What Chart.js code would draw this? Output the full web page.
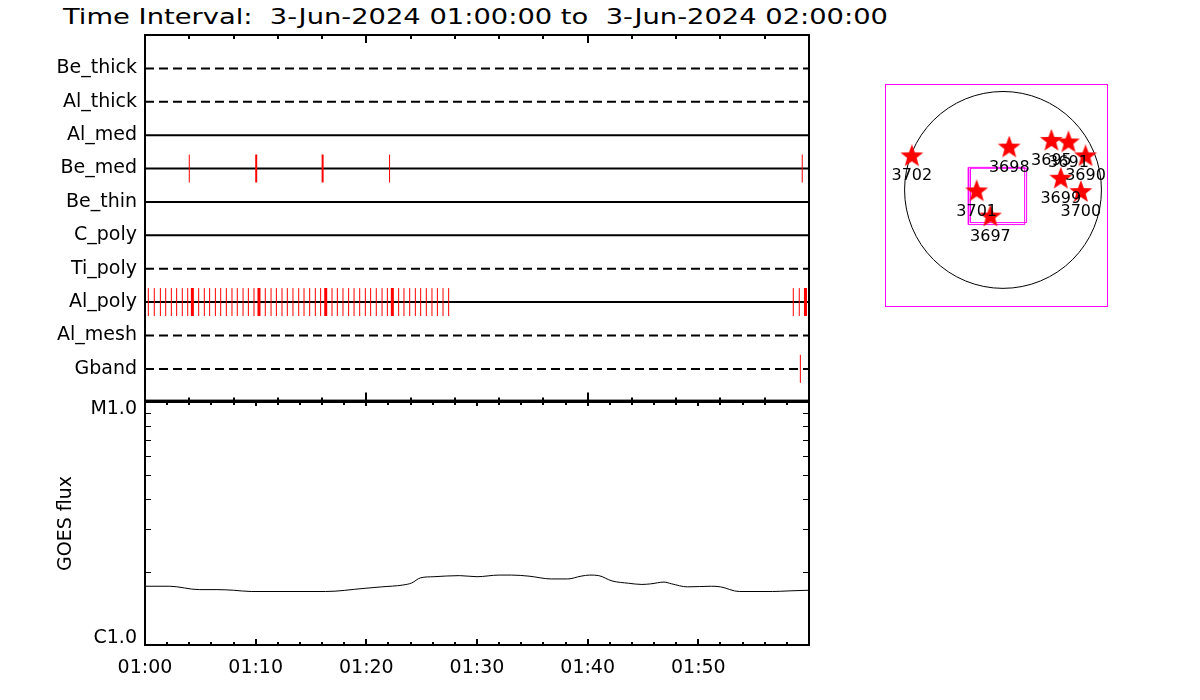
<!DOCTYPE html>
<html lang="en">
<head>
<meta charset="utf-8">
<title>XRT filter timeline, GOES flux and AR map</title>
<script src="https://cdn.jsdelivr.net/npm/chart.js"></script>
<style>
  body { margin: 0; background: #fff; width: 1200px; height: 700px; position: relative; overflow: hidden; }
  canvas { position: absolute; }
  #title { position: absolute; left: 63px; top: 4px; font: 21px "DejaVu Sans", sans-serif; line-height: 26px;
           white-space: pre; transform-origin: left center; color: #000; }
</style>
</head>
<body>
<div id="title">Time Interval:  3-Jun-2024 01:00:00 to  3-Jun-2024 02:00:00</div>
<canvas id="filterChart" width="830" height="420" style="left:0;top:0"></canvas>
<canvas id="goesChart" width="830" height="320" style="left:0;top:380px"></canvas>
<canvas id="diskChart" width="223" height="223" style="left:885px;top:84px"></canvas>
<script>
// ---- data ----
const filterNames = ['Be_thick', 'Al_thick', 'Al_med', 'Be_med', 'Be_thin', 'C_poly', 'Ti_poly', 'Al_poly', 'Al_mesh', 'Gband'];

// exposure times, minutes after 01:00:00
const beMedTimes = [4.00, 22.10, 59.39];
const beMedHeavy = [10.05, 16.05];
const alPolyTimes = [0.30, 0.84, 1.39, 1.87, 2.38, 2.86, 3.37, 3.86, 4.85, 5.36, 5.84, 6.36, 6.84, 7.35,
  7.86, 8.34, 8.86, 9.34, 9.85, 10.87, 11.39, 11.87, 12.38, 12.86, 13.37, 13.89, 14.37, 14.88, 15.39,
  15.87, 16.90, 17.38, 17.89, 18.40, 18.89, 19.40, 19.91, 20.39, 20.90, 21.42, 21.90, 22.92, 23.40,
  23.92, 24.43, 24.91, 25.42, 25.93, 26.42, 26.93, 27.44, 58.58, 59.12];
const alPolyHeavy = [4.28, 10.30, 16.33, 22.35, 59.68];
const gbandTimes = [59.22];

// GOES 1-8 A flux
const goesMinutes = [0, 2.2, 4.9, 6.5, 8.0, 9.6, 16.3, 19.8, 21.4, 23.3, 24.1, 24.9, 26.1, 28.4, 30.0, 32.0,
  33.1, 34.7, 36.7, 38.2, 39.4, 40.2, 41.0, 42.2, 43.7, 44.9, 45.7, 46.9, 47.6, 49.0, 51.2, 52.0, 53.7,
  56.7, 58.2, 60];
const goesFlux = [1.745e-6, 1.745e-6, 1.69e-6, 1.69e-6, 1.68e-6, 1.66e-6, 1.66e-6, 1.71e-6, 1.735e-6, 1.765e-6,
  1.80e-6, 1.89e-6, 1.91e-6, 1.93e-6, 1.91e-6, 1.94e-6, 1.94e-6, 1.92e-6, 1.87e-6, 1.87e-6, 1.92e-6,
  1.94e-6, 1.93e-6, 1.835e-6, 1.795e-6, 1.775e-6, 1.785e-6, 1.815e-6, 1.785e-6, 1.735e-6, 1.745e-6, 1.735e-6,
  1.66e-6, 1.66e-6, 1.67e-6, 1.68e-6];

const timeTickLabels = ['01:00', '01:10', '01:20', '01:30', '01:40', '01:50'];
const goesClassValues = [1e-6, 1e-5];
const goesClassLabels = ['C1.0', 'M1.0'];

// active regions, heliocentric arcsec
const arNumbers = ['3702', '3698', '3695', '3691', '3690', '3699', '3700', '3701', '3697'];
const arX = [-876, 60, 465, 629, 793, 555, 748, -253, -121];
const arY = [323, 407, 471, 456, 323, 108, -21, -14, -256];
const solarRadius = 946;
// XRT field of view corners (two pointings)
const fovX0 = [-333, -314];
const fovX1 = [208, 227];
const fovY0 = [-333, -314];
const fovY1 = [217, 208];

// ---- style ----
const dashedFilters = ['Be_thick', 'Al_thick', 'Ti_poly', 'Al_mesh', 'Gband'];
const FONT = '"DejaVu Sans", sans-serif';
Chart.defaults.font.family = FONT;
Chart.defaults.font.size = 19;
Chart.defaults.color = '#000';
Chart.defaults.animation = false;
Chart.defaults.events = [];
Chart.defaults.plugins.legend.display = false;
Chart.defaults.plugins.tooltip.enabled = false;

// title squeezed to the reference width
const titleEl = document.getElementById('title');
titleEl.style.transform = 'scaleX(' + (825 / titleEl.getBoundingClientRect().width) + ')';

// frame + inward tick marks drawn from the chart's own scales
const frameTicks = {
  id: 'frameTicks',
  afterDraw(chart, args, o) {
    const {ctx, chartArea: a} = chart;
    ctx.save();
    ctx.strokeStyle = '#000';
    ctx.lineWidth = 2;
    ctx.strokeRect(a.left, a.top, a.right - a.left, a.bottom - a.top);
    const xs = chart.scales.x;
    ctx.beginPath();
    for (const t of xs.ticks) {
      const px = Math.round(xs.getPixelForValue(t.value));
      const major = Math.abs(t.value % 10) < 1e-9;
      if (o.top) { ctx.moveTo(px, a.top); ctx.lineTo(px, a.top + (major ? o.top[1] : o.top[0])); }
      if (o.bottom) { ctx.moveTo(px, a.bottom); ctx.lineTo(px, a.bottom - (major ? o.bottom[1] : o.bottom[0])); }
    }
    ctx.stroke();
    if (o.yMinor) {
      const ys = chart.scales.y;
      ctx.lineWidth = 1;
      ctx.beginPath();
      for (const t of ys.ticks) {
        const py = Math.round(ys.getPixelForValue(t.value)) + 0.5;
        ctx.moveTo(a.left, py); ctx.lineTo(a.left + o.yMinor, py);
        ctx.moveTo(a.right, py); ctx.lineTo(a.right - o.yMinor, py);
      }
      ctx.stroke();
    }
    ctx.restore();
  }
};

// ---- filter timeline ----
const rowOf = name => filterNames.indexOf(name) + 1;
const marks = (times, row, width) => ({
  type: 'scatter',
  data: times.map(t => ({x: t, y: row})),
  pointStyle: 'line', rotation: 90, pointRadius: 14,
  borderColor: '#ff0000', borderWidth: width, order: 0
});

const filterDatasets = [
  marks(beMedTimes, rowOf('Be_med'), 1),
  marks(beMedHeavy, rowOf('Be_med'), 2),
  marks(alPolyTimes, rowOf('Al_poly'), 1),
  marks(alPolyHeavy, rowOf('Al_poly'), 3),
  marks(gbandTimes, rowOf('Gband'), 1)
];
filterNames.forEach((name, i) => {
  filterDatasets.push({
    type: 'line',
    data: [{x: 0, y: i + 1}, {x: 60, y: i + 1}],
    borderColor: '#000', borderWidth: 2, pointRadius: 0,
    borderDash: dashedFilters.includes(name) ? [9, 5] : [],
    order: 1
  });
});

new Chart(document.getElementById('filterChart'), {
  type: 'scatter',
  data: {datasets: filterDatasets},
  options: {
    responsive: false,
    layout: {autoPadding: false, padding: {left: 0, top: 35, right: 21, bottom: 17}},
    scales: {
      x: {type: 'linear', min: 0, max: 60, display: false, ticks: {stepSize: 2}},
      y: {
        type: 'linear', min: 0, max: 10.95, reverse: true,
        grid: {display: false, drawTicks: false}, border: {display: false},
        afterBuildTicks: s => { s.ticks = filterNames.map((n, i) => ({value: i + 1})); },
        afterFit: s => { s.width = 145; },
        ticks: {padding: 8, autoSkip: false, callback: v => filterNames[v - 1] || ''}
      }
    },
    plugins: {frameTicks: {top: [4, 8], bottom: [3, 8]}}
  },
  plugins: [frameTicks]
});

// ---- GOES flux ----
new Chart(document.getElementById('goesChart'), {
  type: 'line',
  data: {
    datasets: [{
      data: goesMinutes.map((m, i) => ({x: m, y: goesFlux[i]})),
      borderColor: '#000', borderWidth: 1, pointRadius: 0,
      cubicInterpolationMode: 'monotone'
    }]
  },
  options: {
    responsive: false,
    layout: {autoPadding: false, padding: {left: 0, top: 22, right: 21, bottom: 0}},
    scales: {
      x: {
        type: 'linear', min: 0, max: 60,
        grid: {display: false, drawTicks: false}, border: {display: false},
        afterFit: s => { s.height = 55; },
        ticks: {
          stepSize: 2, autoSkip: false, maxRotation: 0, padding: 12,
          callback: v => (v % 10 === 0 && v < 60) ? timeTickLabels[v / 10] : ''
        }
      },
      y: {
        type: 'logarithmic', min: 1e-6, max: 1e-5,
        grid: {display: false, drawTicks: false}, border: {display: false},
        afterFit: s => { s.width = 145; },
        title: {display: true, text: 'GOES flux', padding: {top: 55, bottom: 0}},
        ticks: {
          padding: 8, autoSkip: false, font: {lineHeight: 0.7},
          // class labels sit just inside the panel, as in the IDL plot
          callback: v => {
            const k = goesClassValues.findIndex(c => Math.abs(Math.log10(v / c)) < 1e-6);
            if (k < 0) return '';
            return k === 0 ? [goesClassLabels[k], ''] : ['', goesClassLabels[k]];
          }
        }
      }
    },
    plugins: {frameTicks: {top: [3, 4], bottom: [3, 6], yMinor: 6}}
  },
  plugins: [frameTicks]
});

// ---- solar disk with active regions ----
function starImage(size) {
  const c = document.createElement('canvas');
  c.width = c.height = size;
  const g = c.getContext('2d');
  const R = size / 2, r = R * 0.42;
  g.beginPath();
  for (let k = 0; k < 10; k++) {
    const ang = -Math.PI / 2 + k * Math.PI / 5;
    const rad = k % 2 ? r : R;
    g.lineTo(R + rad * Math.cos(ang), R + rad * Math.sin(ang));
  }
  g.closePath();
  g.fillStyle = '#ff0000';
  g.fill();
  return c;
}
const star = starImage(24);

const diskFrame = {
  id: 'diskFrame',
  afterDraw(chart) {
    const {ctx, chartArea: a} = chart;
    ctx.save();
    ctx.strokeStyle = '#ff00ff';
    ctx.lineWidth = 1;
    ctx.strokeRect(a.left + 0.5, a.top + 0.5, a.right - a.left - 1, a.bottom - a.top - 1);
    // AR numbers under the stars
    const meta = chart.getDatasetMeta(0);
    ctx.fillStyle = '#000';
    ctx.font = '16px ' + FONT;
    ctx.textAlign = 'center';
    ctx.textBaseline = 'middle';
    meta.data.forEach((el, i) => ctx.fillText(arNumbers[i], el.x, el.y + 20));
    ctx.restore();
  }
};

const fovDatasets = fovX0.map((x0, i) => ({
  type: 'line',
  data: [{x: x0, y: fovY0[i]}, {x: fovX1[i], y: fovY0[i]}, {x: fovX1[i], y: fovY1[i]},
         {x: x0, y: fovY1[i]}, {x: x0, y: fovY0[i]}],
  borderColor: '#ff00ff', borderWidth: 1, pointRadius: 0, order: 2
}));

new Chart(document.getElementById('diskChart'), {
  type: 'scatter',
  data: {
    datasets: [
      {data: arX.map((x, i) => ({x: x, y: arY[i]})), pointStyle: star, order: 0},
      ...fovDatasets,
      {
        data: [{x: 0, y: 0}], pointStyle: 'circle', backgroundColor: 'rgba(0,0,0,0)',
        borderColor: '#000', borderWidth: 1, order: 3,
        pointRadius: c => Math.abs(c.chart.scales.x.getPixelForValue(solarRadius) - c.chart.scales.x.getPixelForValue(0))
      }
    ]
  },
  options: {
    responsive: false,
    layout: {autoPadding: false, padding: 0},
    scales: {
      x: {type: 'linear', min: -1134, max: 1009, display: false},
      y: {type: 'linear', min: -1125, max: 1018, display: false}
    }
  },
  plugins: [diskFrame]
});
</script>
</body>
</html>
